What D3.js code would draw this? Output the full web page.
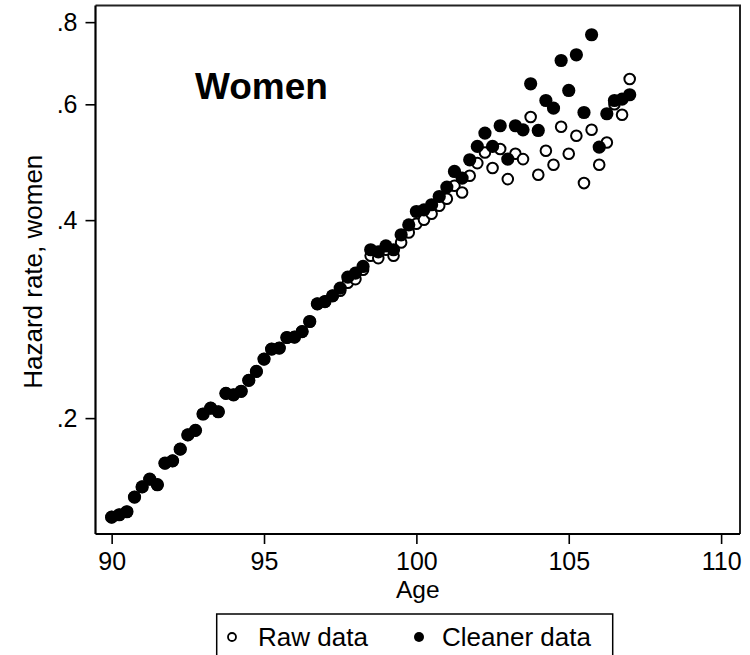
<!DOCTYPE html>
<html><head><meta charset="utf-8">
<script src="https://cdn.jsdelivr.net/npm/d3@7"></script>
<style>body{margin:0;background:#fff}svg{display:block}text{font-family:"Liberation Sans",Arial,sans-serif}</style>
</head><body>
<svg id="c" width="750" height="655"></svg>
<script>
const ages = [90,90.25,90.5,90.75,91,91.25,91.5,91.75,92,92.25,92.5,92.75,93,93.25,93.5,93.75,94,94.25,94.5,94.75,95,95.25,95.5,95.75,96,96.25,96.5,96.75,97,97.25,97.5,97.75,98,98.25,98.5,98.75,99,99.25,99.5,99.75,100,100.25,100.5,100.75,101,101.25,101.5,101.75,102,102.25,102.5,102.75,103,103.25,103.5,103.75,104,104.25,104.5,104.75,105,105.25,105.5,105.75,106,106.25,106.5,106.75,107];
const cleaner = [0.1414,0.1426,0.1441,0.1517,0.1572,0.1615,0.1584,0.1708,0.1722,0.1794,0.1886,0.1916,0.2029,0.2071,0.2045,0.2181,0.2170,0.2197,0.2283,0.2355,0.2459,0.2547,0.2556,0.2652,0.2656,0.2708,0.2805,0.2984,0.3008,0.3069,0.3153,0.3277,0.3323,0.3401,0.3606,0.3580,0.3656,0.3606,0.3800,0.3935,0.4123,0.4147,0.4221,0.4345,0.4491,0.4743,0.4634,0.4941,0.5177,0.5425,0.5177,0.5566,0.4953,0.5566,0.5488,0.6447,0.5475,0.6081,0.5921,0.6995,0.6298,0.7136,0.5831,0.7654,0.5166,0.5805,0.6081,0.6111,0.6204];
const raw = [0.1414,0.1426,0.1441,0.1517,0.1572,0.1615,0.1584,0.1708,0.1722,0.1794,0.1886,0.1916,0.2029,0.2071,0.2045,0.2181,0.2170,0.2197,0.2283,0.2355,0.2459,0.2547,0.2556,0.2652,0.2656,0.2708,0.2805,0.2984,0.3008,0.3069,0.3123,0.3212,0.3254,0.3362,0.3531,0.3502,0.3606,0.3531,0.3699,0.3830,0.3949,0.4005,0.4090,0.4206,0.4310,0.4511,0.4406,0.4672,0.4884,0.5069,0.4800,0.5130,0.4618,0.5046,0.4953,0.5738,0.4688,0.5099,0.4855,0.5546,0.5046,0.5374,0.4554,0.5488,0.4855,0.5250,0.6000,0.5784,0.6555];
const xTicks = [90,95,100,105,110];
const yTicks = [0.2,0.4,0.6,0.8];
const yTickLabels = [".2",".4",".6",".8"];
const seriesNames = ["Raw data","Cleaner data"];
const panelTitle = "Women";
const xTitle = "Age";
const yTitle = "Hazard rate, women";

const svg = d3.select("#c");
const L=95.5, R=740, T=5.5, B=534;
const x = d3.scaleLinear().domain([89.47,110.62]).range([L,R]);
const y = d3.scaleLog().domain([0.1333,0.848]).range([B,T]);

// plot region outline (top/right)
svg.append("path").attr("d",`M${L},${T}H${R}V${B}`).attr("fill","none").attr("stroke","#222").attr("stroke-width",2);

// axes
const xa = svg.append("g").attr("transform",`translate(0,${B})`)
  .call(d3.axisBottom(x).tickValues(xTicks).tickSize(10).tickPadding(8).tickFormat(d3.format("d")));
const ya = svg.append("g").attr("transform",`translate(${L},0)`)
  .call(d3.axisLeft(y).tickValues(yTicks).tickSize(10).tickPadding(8).tickFormat((d,i)=>yTickLabels[i]));
[xa,ya].forEach(g=>{
  g.select(".domain").attr("stroke","#000").attr("stroke-width",2.2);
  g.selectAll(".tick line").attr("stroke","#000").attr("stroke-width",1.6);
  g.selectAll(".tick text").attr("fill","#000").style("font-size","25px").style("font-family","'Liberation Sans',Arial,sans-serif");
});
ya.select(".domain").attr("d",`M0,${B}V${T}`);
xa.select(".domain").attr("d",`M${L},0H${R}`);

// points
const rawData = ages.map((a,i)=>({a,v:raw[i]}));
const clData = ages.map((a,i)=>({a,v:cleaner[i]}));
svg.append("g").selectAll("circle").data(rawData).join("circle")
  .attr("cx",d=>x(d.a)).attr("cy",d=>y(d.v)).attr("r",5.3)
  .attr("fill","#fff").attr("stroke","#000").attr("stroke-width",2);
svg.append("g").selectAll("circle").data(clData).join("circle")
  .attr("cx",d=>x(d.a)).attr("cy",d=>y(d.v)).attr("r",6.6)
  .attr("fill","#000");

// panel title
svg.append("text").attr("x",195).attr("y",99).attr("font-size",37).attr("font-weight","bold").text(panelTitle);

// axis titles
svg.append("text").attr("x",(L+R)/2).attr("y",598).attr("text-anchor","middle").attr("font-size",24.5).text(xTitle);
svg.append("text").attr("transform",`translate(42,${(T+B)/2+2}) rotate(-90)`).attr("text-anchor","middle").attr("font-size",26).text(yTitle);

// legend
const lg = svg.append("g");
lg.append("rect").attr("x",216.7).attr("y",614).attr("width",396).attr("height",60).attr("fill","#fff").attr("stroke","#000").attr("stroke-width",1.5);
lg.append("circle").attr("cx",232).attr("cy",637).attr("r",4).attr("fill","#fff").attr("stroke","#000").attr("stroke-width",1.8);
lg.append("text").attr("x",258).attr("y",646).attr("font-size",26).text(seriesNames[0]);
lg.append("circle").attr("cx",419).attr("cy",637).attr("r",5).attr("fill","#000");
lg.append("text").attr("x",442).attr("y",646).attr("font-size",26).text(seriesNames[1]);
</script>
</body></html>
